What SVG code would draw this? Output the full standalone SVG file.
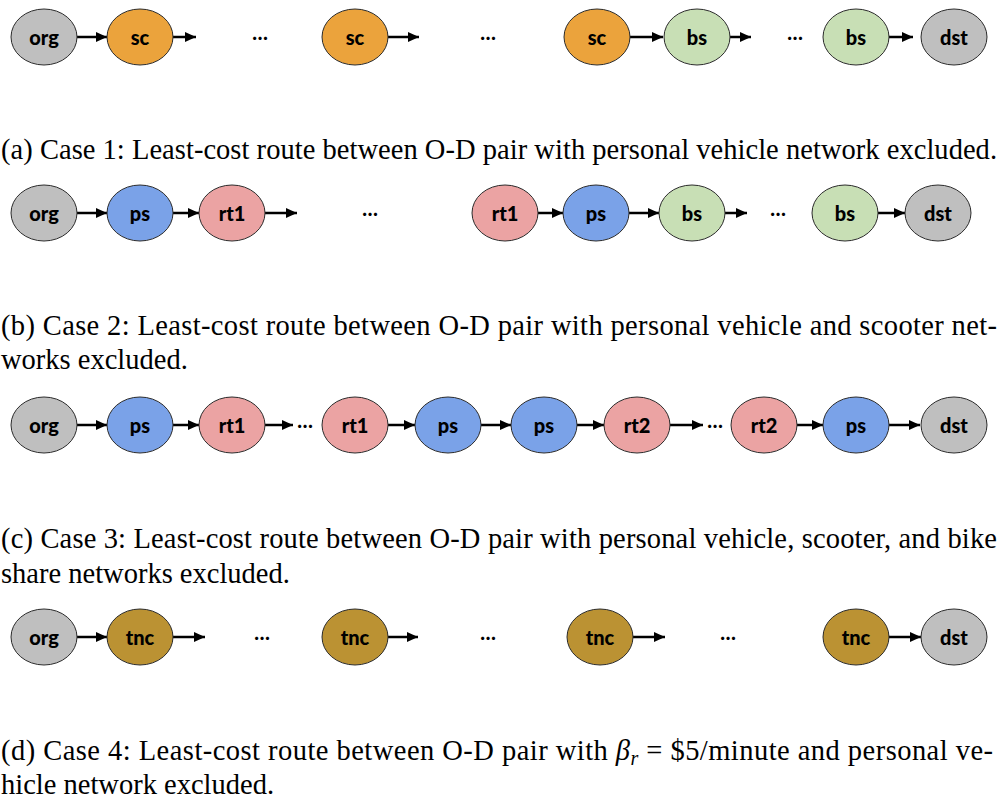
<svg xmlns="http://www.w3.org/2000/svg" width="1000" height="801" viewBox="0 0 1000 801">
  <style>
    .n { stroke: #2b2b2b; stroke-width: 1; }
    .grey { fill: #bfbfbf; }
    .sc { fill: #eba33c; }
    .bs { fill: #c8dfb5; }
    .ps { fill: #7aa2e8; }
    .rt { fill: #eba3a3; }
    .tnc { fill: #bb9233; }
    .lbl { font-family: Lato, "Open Sans", sans-serif; font-weight: 900; font-size: 20px; fill: #000; text-anchor: middle; dominant-baseline: central; }
    .dots { font-family: Lato, "Open Sans", sans-serif; font-weight: 900; font-size: 20px; fill: #000; text-anchor: middle; }
    .edge { stroke: #000; stroke-width: 2.5; fill: none; marker-end: url(#ah); }
    .cap { font-family: "Liberation Serif", "Times New Roman", serif; font-size: 28.5px; fill: #000; }
  </style>
  <defs>
    <marker id="ah" markerUnits="userSpaceOnUse" markerWidth="12" markerHeight="10" refX="11" refY="5" orient="auto">
      <path d="M0,0 L11,5 L0,10 Z" fill="#000"/>
    </marker>
  </defs>
  <rect width="1000" height="801" fill="#fff"/>

  <!-- connectors -->
  <g id="connectors">
    <!-- case 1 -->
    <line class="edge" x1="77" y1="37" x2="107" y2="37"/>
    <line class="edge" x1="173" y1="37" x2="196" y2="37"/>
    <line class="edge" x1="388" y1="37" x2="419" y2="37"/>
    <line class="edge" x1="630" y1="37" x2="663" y2="37"/>
    <line class="edge" x1="730" y1="37" x2="751" y2="37"/>
    <line class="edge" x1="889" y1="37" x2="913" y2="37"/>
    <!-- case 2 -->
    <line class="edge" x1="77" y1="213" x2="107" y2="213"/>
    <line class="edge" x1="173" y1="213" x2="199" y2="213"/>
    <line class="edge" x1="265" y1="213" x2="297" y2="213"/>
    <line class="edge" x1="538" y1="213" x2="563" y2="213"/>
    <line class="edge" x1="629" y1="213" x2="659" y2="213"/>
    <line class="edge" x1="725" y1="213" x2="747" y2="213"/>
    <line class="edge" x1="878" y1="213" x2="905" y2="213"/>
    <!-- case 3 -->
    <line class="edge" x1="77" y1="425" x2="107" y2="425"/>
    <line class="edge" x1="173" y1="425" x2="199" y2="425"/>
    <line class="edge" x1="265" y1="425" x2="293" y2="425"/>
    <line class="edge" x1="388" y1="425" x2="415" y2="425"/>
    <line class="edge" x1="481" y1="425" x2="511" y2="425"/>
    <line class="edge" x1="577" y1="425" x2="604" y2="425"/>
    <line class="edge" x1="670" y1="425" x2="703" y2="425"/>
    <line class="edge" x1="797" y1="425" x2="823" y2="425"/>
    <line class="edge" x1="889" y1="425" x2="920" y2="425"/>
    <!-- case 4 -->
    <line class="edge" x1="77" y1="637" x2="107" y2="637"/>
    <line class="edge" x1="173" y1="637" x2="205" y2="637"/>
    <line class="edge" x1="388" y1="637" x2="418" y2="637"/>
    <line class="edge" x1="633" y1="637" x2="665" y2="637"/>
    <line class="edge" x1="889" y1="637" x2="921" y2="637"/>
  </g>

  <!-- case 1 nodes -->
  <g id="c1-org"><ellipse class="n grey" cx="44" cy="37" rx="33" ry="28"/><text class="lbl" x="44" y="37">org</text></g>
  <g id="c1-sc1"><ellipse class="n sc" cx="140" cy="37" rx="33" ry="28"/><text class="lbl" x="140" y="37">sc</text></g>
  <g id="c1-sc2"><ellipse class="n sc" cx="355" cy="37" rx="33" ry="28"/><text class="lbl" x="355" y="37">sc</text></g>
  <g id="c1-sc3"><ellipse class="n sc" cx="597" cy="37" rx="33" ry="28"/><text class="lbl" x="597" y="37">sc</text></g>
  <g id="c1-bs1"><ellipse class="n bs" cx="697" cy="37" rx="33" ry="28"/><text class="lbl" x="697" y="37">bs</text></g>
  <g id="c1-bs2"><ellipse class="n bs" cx="856" cy="37" rx="33" ry="28"/><text class="lbl" x="856" y="37">bs</text></g>
  <g id="c1-dst"><ellipse class="n grey" cx="954" cy="37" rx="33" ry="28"/><text class="lbl" x="954" y="37">dst</text></g>
  <g id="c1-gaps">
    <text class="dots" x="260" y="40">…</text>
    <text class="dots" x="488" y="40">…</text>
    <text class="dots" x="795" y="40">…</text>
  </g>

  <!-- case 2 nodes -->
  <g id="c2-org"><ellipse class="n grey" cx="44" cy="213" rx="33" ry="28"/><text class="lbl" x="44" y="213">org</text></g>
  <g id="c2-ps1"><ellipse class="n ps" cx="140" cy="213" rx="33" ry="28"/><text class="lbl" x="140" y="213">ps</text></g>
  <g id="c2-rt1a"><ellipse class="n rt" cx="232" cy="213" rx="33" ry="28"/><text class="lbl" x="232" y="213">rt1</text></g>
  <g id="c2-rt1b"><ellipse class="n rt" cx="505" cy="213" rx="33" ry="28"/><text class="lbl" x="505" y="213">rt1</text></g>
  <g id="c2-ps2"><ellipse class="n ps" cx="596" cy="213" rx="33" ry="28"/><text class="lbl" x="596" y="213">ps</text></g>
  <g id="c2-bs1"><ellipse class="n bs" cx="692" cy="213" rx="33" ry="28"/><text class="lbl" x="692" y="213">bs</text></g>
  <g id="c2-bs2"><ellipse class="n bs" cx="845" cy="213" rx="33" ry="28"/><text class="lbl" x="845" y="213">bs</text></g>
  <g id="c2-dst"><ellipse class="n grey" cx="938" cy="213" rx="33" ry="28"/><text class="lbl" x="938" y="213">dst</text></g>
  <g id="c2-gaps">
    <text class="dots" x="370" y="216">…</text>
    <text class="dots" x="778" y="216">…</text>
  </g>

  <!-- case 3 nodes -->
  <g id="c3-org"><ellipse class="n grey" cx="44" cy="425" rx="33" ry="28"/><text class="lbl" x="44" y="425">org</text></g>
  <g id="c3-ps1"><ellipse class="n ps" cx="140" cy="425" rx="33" ry="28"/><text class="lbl" x="140" y="425">ps</text></g>
  <g id="c3-rt1a"><ellipse class="n rt" cx="232" cy="425" rx="33" ry="28"/><text class="lbl" x="232" y="425">rt1</text></g>
  <g id="c3-rt1b"><ellipse class="n rt" cx="355" cy="425" rx="33" ry="28"/><text class="lbl" x="355" y="425">rt1</text></g>
  <g id="c3-ps2"><ellipse class="n ps" cx="448" cy="425" rx="33" ry="28"/><text class="lbl" x="448" y="425">ps</text></g>
  <g id="c3-ps3"><ellipse class="n ps" cx="544" cy="425" rx="33" ry="28"/><text class="lbl" x="544" y="425">ps</text></g>
  <g id="c3-rt2a"><ellipse class="n rt" cx="637" cy="425" rx="33" ry="28"/><text class="lbl" x="637" y="425">rt2</text></g>
  <g id="c3-rt2b"><ellipse class="n rt" cx="764" cy="425" rx="33" ry="28"/><text class="lbl" x="764" y="425">rt2</text></g>
  <g id="c3-ps4"><ellipse class="n ps" cx="856" cy="425" rx="33" ry="28"/><text class="lbl" x="856" y="425">ps</text></g>
  <g id="c3-dst"><ellipse class="n grey" cx="954" cy="425" rx="33" ry="28"/><text class="lbl" x="954" y="425">dst</text></g>
  <g id="c3-gaps">
    <text class="dots" x="305" y="428">…</text>
    <text class="dots" x="715" y="428">…</text>
  </g>

  <!-- case 4 nodes -->
  <g id="c4-org"><ellipse class="n grey" cx="44" cy="637" rx="33" ry="28"/><text class="lbl" x="44" y="637">org</text></g>
  <g id="c4-tnc1"><ellipse class="n tnc" cx="140" cy="637" rx="33" ry="28"/><text class="lbl" x="140" y="637">tnc</text></g>
  <g id="c4-tnc2"><ellipse class="n tnc" cx="355" cy="637" rx="33" ry="28"/><text class="lbl" x="355" y="637">tnc</text></g>
  <g id="c4-tnc3"><ellipse class="n tnc" cx="600" cy="637" rx="33" ry="28"/><text class="lbl" x="600" y="637">tnc</text></g>
  <g id="c4-tnc4"><ellipse class="n tnc" cx="856" cy="637" rx="33" ry="28"/><text class="lbl" x="856" y="637">tnc</text></g>
  <g id="c4-dst"><ellipse class="n grey" cx="954" cy="637" rx="33" ry="28"/><text class="lbl" x="954" y="637">dst</text></g>
  <g id="c4-gaps">
    <text class="dots" x="262" y="640">…</text>
    <text class="dots" x="488" y="640">…</text>
    <text class="dots" x="728" y="640">…</text>
  </g>

  <!-- captions -->
  <g id="captions">
    <text class="cap" x="1" y="159" textLength="996" lengthAdjust="spacing">(a) Case 1: Least-cost route between O-D pair with personal vehicle network excluded.</text>
    <text class="cap" x="1" y="335" textLength="996" lengthAdjust="spacing">(b) Case 2: Least-cost route between O-D pair with personal vehicle and scooter net-</text>
    <text class="cap" x="1" y="369">works excluded.</text>
    <text class="cap" x="1" y="548" textLength="996" lengthAdjust="spacing">(c) Case 3: Least-cost route between O-D pair with personal vehicle, scooter, and bike</text>
    <text class="cap" x="1" y="583">share networks excluded.</text>
    <text class="cap" x="1" y="760" textLength="992" lengthAdjust="spacing">(d) Case 4: Least-cost route between O-D pair with <tspan font-style="italic">β</tspan><tspan font-style="italic" font-size="20" dy="5">r</tspan><tspan dy="-5"> = $5/minute and personal ve-</tspan></text>
    <text class="cap" x="1" y="794">hicle network excluded.</text>
  </g>
</svg>
